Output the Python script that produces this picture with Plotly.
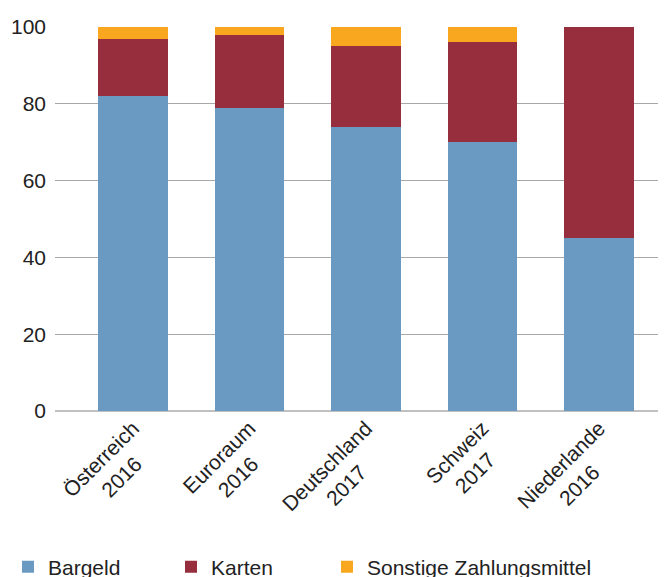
import plotly.graph_objects as go

# data
laender = ["Österreich", "Euroraum", "Deutschland", "Schweiz", "Niederlande"]
jahre = ["2016", "2016", "2017", "2017", "2016"]
bargeld = [82, 79, 74, 70, 45]
karten = [15, 19, 21, 26, 55]
sonstige = [3, 2, 5, 4, 0]
y_ticks = [0, 20, 40, 60, 80, 100]

# plotly right-aligns the lines of rotated labels, so pad the year line
# with no-break spaces to get it roughly centred under the name
pad = [4, 4, 6, 3, 6]
tick_text = [f"{l}<br>{j}{chr(160) * p}" for l, j, p in zip(laender, jahre, pad)]
x_pos = list(range(len(laender)))

font = "Liberation Sans, Arial, sans-serif"
text_col = "#222222"

# the page body adds an 8px margin, so the figure is 8px smaller each way
W, H = 658, 569

series = [
    ("Bargeld", bargeld, "#6a9ac2", "legend", 0.0),
    ("Karten", karten, "#962e3d", "legend2", 163 / W),
    ("Sonstige Zahlungsmittel", sonstige, "#f8a71f", "legend3", 319 / W),
]

fig = go.Figure()
for name, vals, col, leg, _ in series:
    fig.add_trace(go.Bar(x=x_pos, y=vals, name=name, legend=leg,
                         marker=dict(color=col, line_width=0), width=0.6))

# one legend per series so each entry sits where it does in the original
legend_style = dict(orientation="h", xref="container", yref="container",
                    xanchor="left", y=10 / H, yanchor="middle",
                    font=dict(size=21), itemwidth=30)
layout_legends = {leg: dict(x=lx, **legend_style) for _, _, _, leg, lx in series}

fig.update_layout(
    barmode="stack",
    width=W,
    height=H,
    margin=dict(l=47, r=0, t=19, b=166),
    plot_bgcolor="white",
    paper_bgcolor="white",
    font=dict(family=font, size=21, color=text_col),
    showlegend=True,
    **layout_legends,
)
fig.update_xaxes(
    tickmode="array",
    tickvals=x_pos,
    ticktext=tick_text,
    tickangle=-45,
    range=[-0.67, 4.575],
    showgrid=False,
    showline=False,
    ticks="",
    tickfont=dict(size=21),
    automargin=False,
)
fig.update_yaxes(
    range=[0, 100],
    tickvals=y_ticks,
    showgrid=True,
    gridcolor="#a8a8a8",
    gridwidth=1,
    zeroline=True,
    zerolinecolor="#c0c0c0",
    zerolinewidth=2,
    ticks="",
    ticklabelstandoff=8,
    tickfont=dict(size=21),
    automargin=False,
)

fig.write_html("out.html")
